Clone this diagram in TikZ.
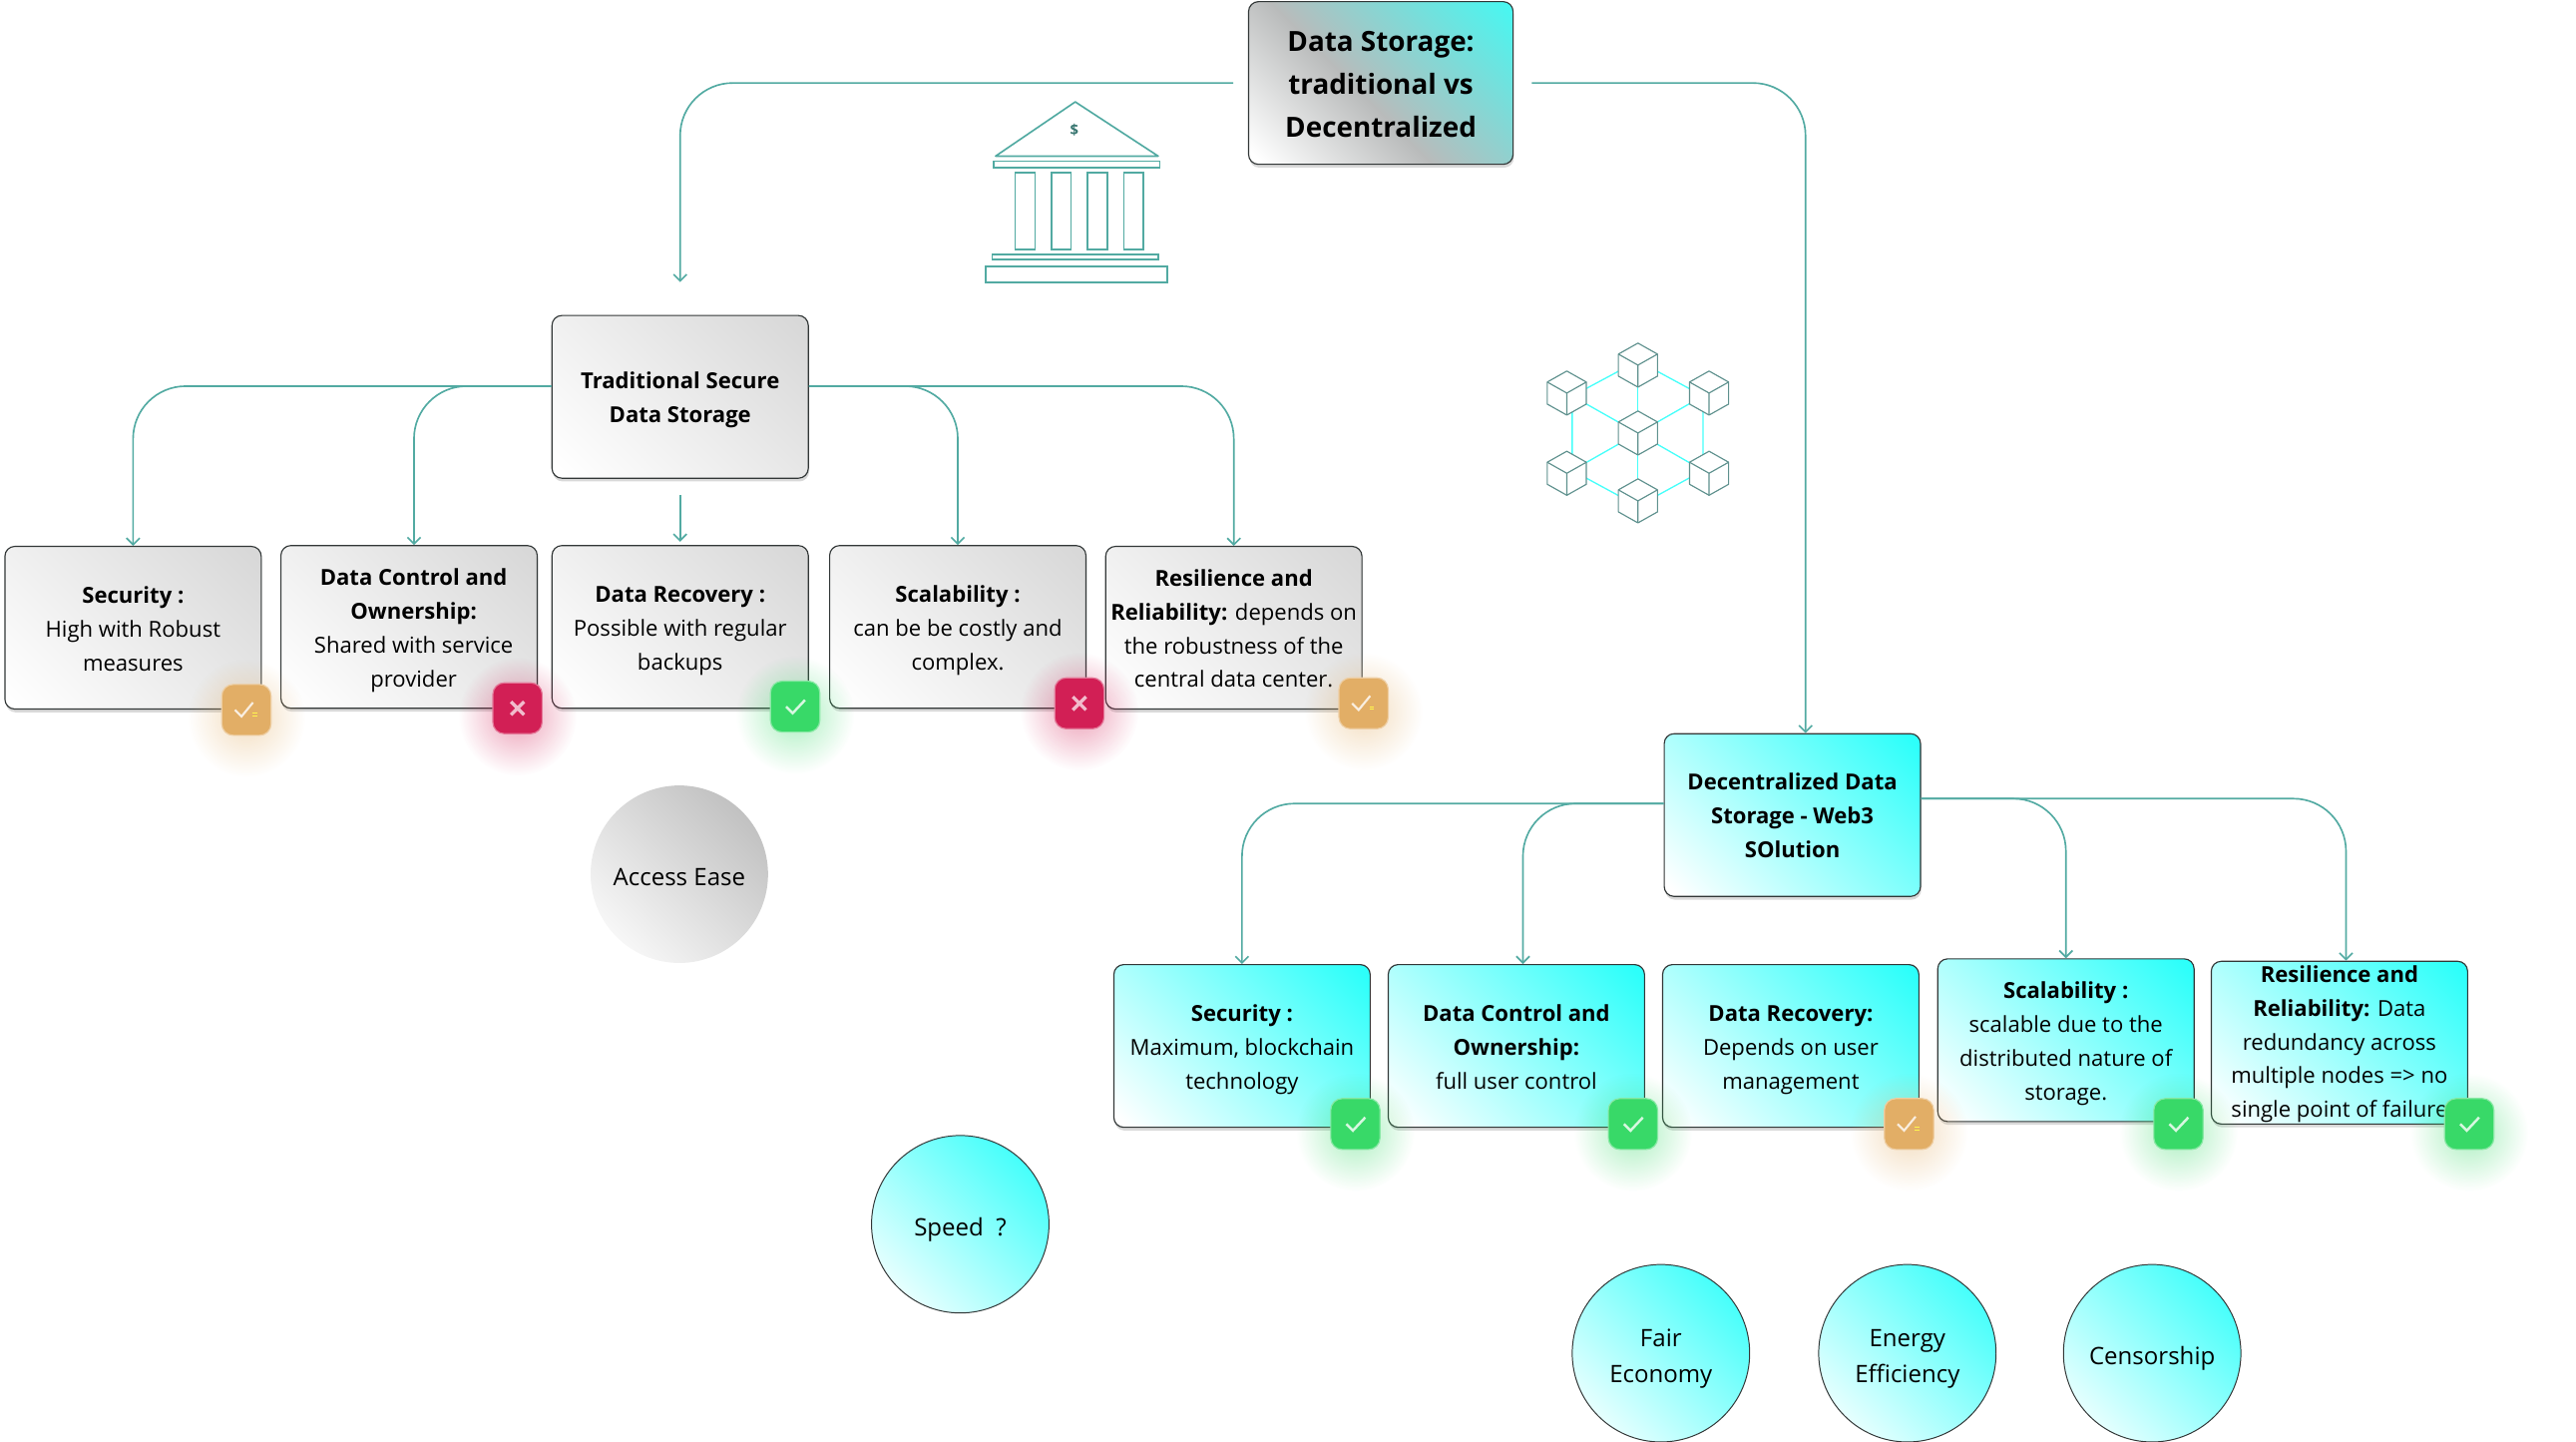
\documentclass[tikz,border=0pt]{standalone}
\usepackage{fontspec}
\setmainfont{Open Sans}
\usetikzlibrary{shadows, fadings, arrows.meta}
\definecolor{linkteal}{RGB}{82, 170, 162}
\definecolor{cubeteal}{RGB}{95, 145, 142}
\definecolor{linkcyan}{RGB}{70, 255, 250}
\definecolor{edgegrey}{RGB}{50, 55, 55}
\definecolor{okgreen}{RGB}{56, 217, 104}
\definecolor{badred}{RGB}{210, 31, 85}
\definecolor{midorange}{RGB}{226, 174, 102}
\definecolor{shadecyan}{RGB}{45, 255, 250}
\definecolor{shadetop}{RGB}{70, 248, 242}
\definecolor{shadetopmid}{RGB}{185, 187, 187}
\definecolor{shadegrey}{RGB}{216, 216, 216}
\definecolor{shadedisc}{RGB}{185, 185, 185}
\definecolor{shadewhite}{RGB}{255, 255, 255}
\pgfdeclarehorizontalshading{titlefill}{100bp}{color(0bp)=(shadewhite); color(17bp)=(shadewhite); color(45bp)=(shadetopmid); color(85bp)=(shadetop); color(100bp)=(shadetop)}
\pgfdeclarehorizontalshading{cyanfill}{100bp}{color(0bp)=(shadewhite); color(17bp)=(shadewhite); color(83bp)=(shadecyan); color(100bp)=(shadecyan)}
\pgfdeclarehorizontalshading{greyfill}{100bp}{color(0bp)=(shadewhite); color(17bp)=(shadewhite); color(83bp)=(shadegrey); color(100bp)=(shadegrey)}
\pgfdeclarehorizontalshading{discfill}{100bp}{color(0bp)=(shadewhite); color(17bp)=(shadewhite); color(83bp)=(shadedisc); color(100bp)=(shadedisc)}
\tikzfading[name=glowfade, inner color=transparent!58, outer color=transparent!100]
\newcommand{\ls}{\rule{0pt}{17pt}}
\newcommand{\lsd}{\rule{0pt}{20pt}}
\newcommand{\lse}{\rule[-6pt]{0pt}{6pt}}
\tikzset{
  pics/tick/.style={code={\draw[white, opacity=.8, line width=1.5pt] (-5.5,0) -- (-1.5,4) -- (6,-4);}},
  pics/halftick/.style={code={\draw[white, opacity=.8, line width=1.3pt] (-7,0) -- (-3,4) -- (4,-4.5); \draw[yellow!70!white, line width=.5pt] (3.5,2) -- (6.5,2) (3.5,3.6) -- (6.5,3.6);}},
  pics/crosstick/.style={code={\draw[white, opacity=.7, line width=2pt] (-4,-4) -- (4,4) (-4,4) -- (4,-4);}},
  pics/chaincube/.style={code={\draw[cubeteal, fill=white, line width=.7pt, line join=round] (0,-13.4) -- (11.9,-6.7) -- (11.9,6.7) -- (0,13.4) -- (-11.9,6.7) -- (-11.9,-6.7) -- cycle; \draw[cubeteal, line width=.7pt] (-11.9,-6.7) -- (0,0) -- (11.9,-6.7) (0,0) -- (0,13.4);}}
}
\begin{document}
\begin{tikzpicture}[
  x=1pt, y=-1pt,
  cardbox/.style={draw=edgegrey, line width=.7pt, rounded corners=6pt, minimum width=156pt, minimum height=99pt, inner sep=0pt, align=center, font=\fontsize{13.4}{20.6}\selectfont, shading angle=45, drop shadow={shadow xshift=.5pt, shadow yshift=-2pt, opacity=.3}},
  greybox/.style={cardbox, shading=greyfill},
  cyanbox/.style={cardbox, shading=cyanfill},
  titlebox/.style={cardbox, shading=titlefill, minimum width=161pt, font=\fontsize{16.9}{26}\selectfont\bfseries},
  disc/.style={circle, minimum size=108pt, inner sep=0pt, align=center, font=\fontsize{14.6}{22}\selectfont, shading angle=45},
  cyandisc/.style={disc, draw=edgegrey, line width=.6pt, shading=cyanfill},
  greydisc/.style={disc, shading=discfill},
  badge/.style={rounded corners=7pt, minimum width=30pt, minimum height=31pt, inner sep=0pt, line width=.7pt},
  link/.style={draw=linkteal, line width=1pt, rounded corners=32pt, -{Straight Barb[length=4pt, width=8pt]}},
  bankline/.style={draw=linkteal, line width=1pt}
]
  \useasboundingbox (0,0) rectangle (1568,877.5);

  \node[titlebox] (title) at (840.5,50.5) {\lsd Data Storage:\\traditional vs\\Decentralized\lse};

  \node[greybox, font=\fontsize{13.4}{20.6}\selectfont\bfseries] (trad) at (414,241.5) {\ls Traditional Secure\\Data Storage\lse};
  \node[greybox] (tradsec) at (81,382) {\ls\textbf{Security :}\\High with Robust\\measures\lse};
  \node[greybox] (tradctl) at (249,381.5) {\ls\hspace*{5.6pt}\textbf{Data Control and}\\\hspace*{5.6pt}\textbf{Ownership:}\\\hspace*{5.6pt}Shared with service\\\hspace*{5.6pt}provider\lse};
  \node[greybox] (tradrec) at (414,381.5) {\ls\textbf{Data Recovery :}\\Possible with regular\\backups\lse};
  \node[greybox] (tradsca) at (583,381.5) {\ls\textbf{Scalability :}\\can be be costly and\\complex.\lse};
  \node[greybox] (tradres) at (751,382) {\ls\textbf{Resilience and}\\\textbf{Reliability:} depends on\\the robustness of the\\central data center.\lse};

  \node[cyanbox, font=\fontsize{13.4}{20.6}\selectfont\bfseries] (dec) at (1091,496) {\ls Decentralized Data\\Storage - Web3\\SOlution\lse};
  \node[cyanbox] (decsec) at (756,636.5) {\ls\textbf{Security :}\\Maximum, blockchain\\technology\lse};
  \node[cyanbox] (decctl) at (923,636.5) {\ls\textbf{Data Control and}\\\textbf{Ownership:}\\full user control\lse};
  \node[cyanbox] (decrec) at (1090,636.5) {\ls\textbf{Data Recovery:}\\Depends on user\\management\lse};
  \node[cyanbox] (decsca) at (1257.5,633) {\ls\textbf{Scalability :}\\scalable due to the\\distributed nature of\\storage.\lse};
  \node[cyanbox] (decres) at (1424,634.5) {\raisebox{-9pt}{\smash{\parbox{156pt}{\centering\textbf{Resilience and}\\\textbf{Reliability:} Data\\redundancy across\\multiple nodes => no\\single point of failure}}}};

  \draw[link, shorten <=9pt, shorten >=20pt] (title.west) -| (trad.north);
  \draw[link, shorten <=11pt] (title.east) -| ([xshift=8pt]dec.north);

  \draw[link] ([yshift=6.5pt]trad.west) -| (tradsec.north);
  \draw[link] ([yshift=6.5pt]trad.west) -| ([xshift=3pt]tradctl.north);
  \draw[link, shorten <=10pt, shorten >=2pt] (trad.south) -- (tradrec.north);
  \draw[link] ([yshift=6.5pt]trad.east) -| (tradsca.north);
  \draw[link] ([yshift=6.5pt]trad.east) -| (tradres.north);

  \draw[link] ([yshift=7pt]dec.west) -| (decsec.north);
  \draw[link] ([yshift=7pt]dec.west) -| ([xshift=4pt]decctl.north);
  \draw[link] ([yshift=10pt]dec.east) -| (decsca.north);
  \draw[link] ([yshift=10pt]dec.east) -| ([xshift=4pt]decres.north);

  \foreach \bx/\by/\bcol/\bico in {150/432/midorange/halftick, 315/431/badred/crosstick, 484/430/okgreen/tick, 657/428/badred/crosstick, 830/428/midorange/halftick, 825/684/okgreen/tick, 994/684/okgreen/tick, 1162/684/midorange/halftick, 1326/684/okgreen/tick, 1503/684/okgreen/tick} {
    \fill[\bcol, path fading=glowfade] (\bx,\by+5) circle (36);
    \node[badge, fill=\bcol, draw=\bcol!60!white] (mark\bx) at (\bx,\by) {};
    \pic at (mark\bx.center) {\bico};
  }

  \node[greydisc] (ease) at (413.5,532) {\lsd Access Ease\lse};
  \node[cyandisc] (speed) at (584.5,745) {\lsd Speed\ \ ?\lse};
  \node[cyandisc] (fair) at (1011,823.5) {\lsd Fair\\Economy\lse};
  \node[cyandisc] (energy) at (1161,823.5) {\lsd Energy\\Efficiency\lse};
  \node[cyandisc] (censor) at (1310,823.5) {\lsd Censorship\lse};

  \draw[bankline, line join=round] (654.5,62) -- (705,95) -- (606,95) -- cycle;
  \draw[bankline] (605,98) rectangle (706,102);
  \foreach \colx in {618,640,662,684} {
    \draw[bankline] (\colx,105) rectangle (\colx+12,152);
  }
  \draw[bankline] (604,155) rectangle (705,158);
  \draw[bankline] (600,162) rectangle (710.5,172);
  \node[text=linkteal!70!black, font=\fontsize{9}{9}\selectfont\bfseries, inner sep=0pt] (dollar) at (654,79) {\$};

  \coordinate (hubmid) at (997,263.6);
  \coordinate (hubtop) at (997,219.6);
  \coordinate (hubur) at (1036.6,241);
  \coordinate (hublr) at (1036.6,286.3);
  \coordinate (hubbot) at (997,308);
  \coordinate (hubll) at (957,286.3);
  \coordinate (hubul) at (957,241);
  \draw[linkcyan, line width=.8pt] (hubtop) -- (hubur) -- (hublr) -- (hubbot) -- (hubll) -- (hubul) -- cycle;
  \foreach \cname in {top,bot,ul,ur,ll,lr} {
    \draw[linkcyan, line width=.8pt] (hubmid) -- (hub\cname);
  }
  \foreach \cx/\cy in {997/222.2, 953.7/239.2, 1040.3/239.2, 997/263.5, 953.7/288, 1040.3/288, 997/304.8} {
    \pic at (\cx,\cy) {chaincube};
  }
\end{tikzpicture}
\end{document}
